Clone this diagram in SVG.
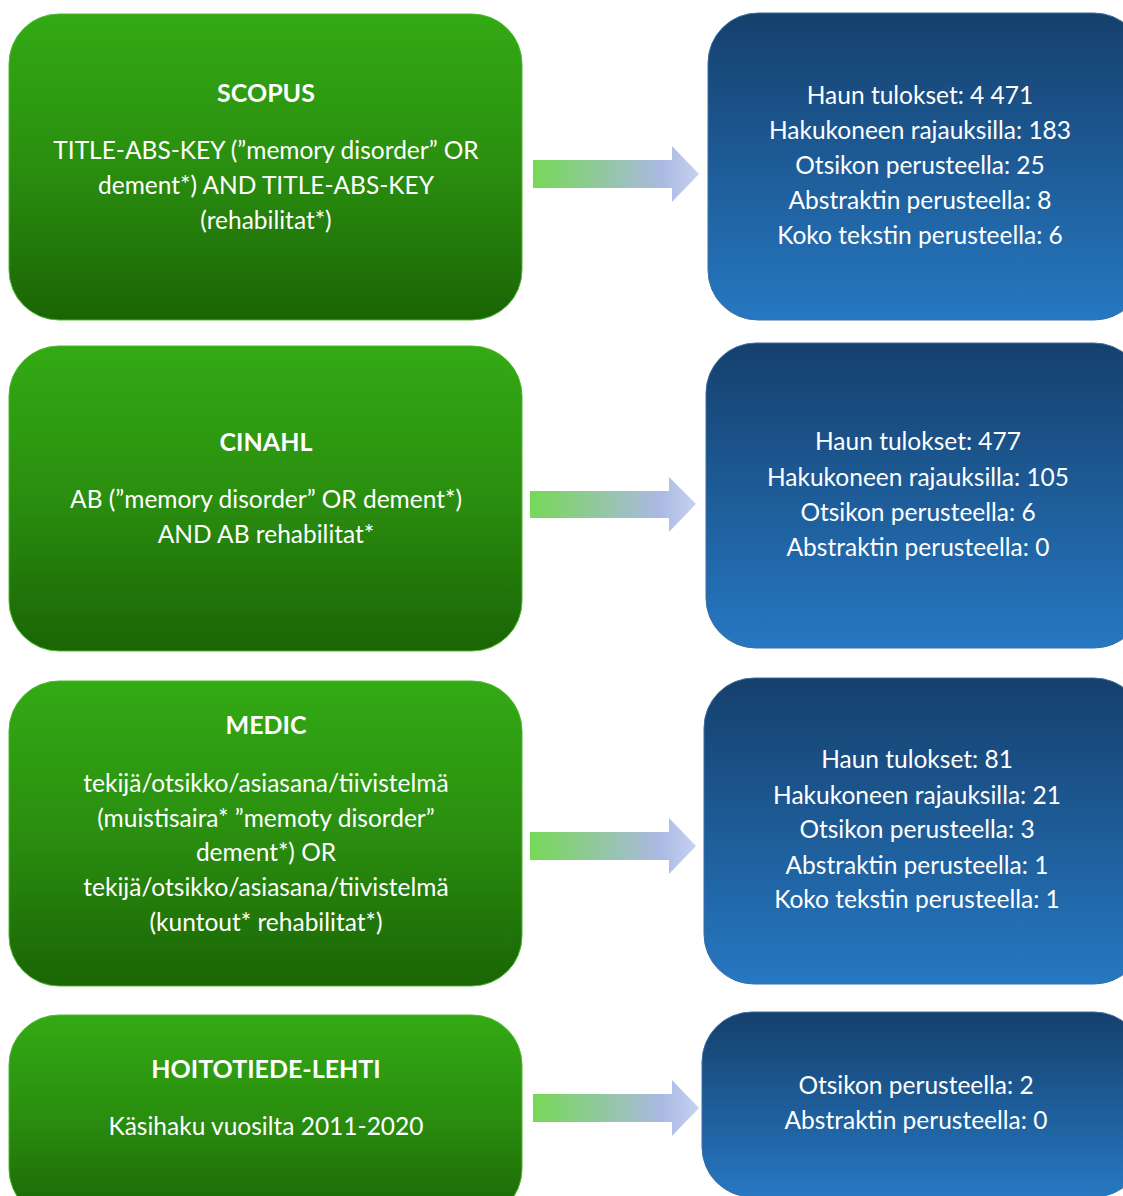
<svg xmlns="http://www.w3.org/2000/svg" width="1123" height="1196" viewBox="0 0 1123 1196">
<defs>
<linearGradient id="g" x1="0" y1="0" x2="0" y2="1">
<stop offset="0" stop-color="#33aa14"/>
<stop offset="0.5" stop-color="#2a8e0f"/>
<stop offset="1" stop-color="#1a6505"/>
</linearGradient>
<linearGradient id="b" x1="0" y1="0" x2="0" y2="1">
<stop offset="0" stop-color="#15406d"/>
<stop offset="1" stop-color="#2678c2"/>
</linearGradient>
<linearGradient id="a" x1="0" y1="0" x2="1" y2="0">
<stop offset="0" stop-color="#76d857"/>
<stop offset="0.5" stop-color="#98c4b0"/>
<stop offset="0.78" stop-color="#abb9e3"/>
<stop offset="1" stop-color="#c6d2ef"/>
</linearGradient>
</defs>
<style>
.gbox{fill:url(#g);stroke:#4fb832;stroke-width:1}
.bbox{fill:url(#b);stroke:#3a6fa3;stroke-width:1}
.t{font-family:Lato,"Open Sans",sans-serif;fill:#ffffff;text-anchor:middle;font-size:24.5px}
.h{font-weight:bold;font-size:25px}
.arrow{fill:url(#a)}
</style>
<rect width="1123" height="1196" fill="#ffffff"/>
<g id="connectors">
<path class="arrow" d="M533,160 H672 V146 L699,174 L672,202 V188 H533 Z"/>
<path class="arrow" d="M530,491 H669 V477 L696,504 L669,532 V518 H530 Z"/>
<path class="arrow" d="M530,832 H669 V818 L696,846 L669,874 V860 H530 Z"/>
<path class="arrow" d="M533,1094 H672 V1080 L699,1108 L672,1136 V1122 H533 Z"/>
</g>
<g id="scopus">
<rect class="gbox" x="9" y="14" width="513" height="306" rx="50"/>
<text class="t h" x="266" y="102">SCOPUS</text>
<text class="t" x="266" y="159">TITLE-ABS-KEY (”memory disorder” OR</text>
<text class="t" x="266" y="194">dement*) AND TITLE-ABS-KEY</text>
<text class="t" x="266" y="229">(rehabilitat*)</text>
</g>
<g id="scopus-results">
<rect class="bbox" x="708" y="13" width="436" height="307" rx="50"/>
<text class="t" x="920" y="104">Haun tulokset: 4 471</text>
<text class="t" x="920" y="139">Hakukoneen rajauksilla: 183</text>
<text class="t" x="920" y="174">Otsikon perusteella: 25</text>
<text class="t" x="920" y="209">Abstraktin perusteella: 8</text>
<text class="t" x="920" y="244">Koko tekstin perusteella: 6</text>
</g>
<g id="cinahl">
<rect class="gbox" x="9" y="346" width="513" height="305" rx="50"/>
<text class="t h" x="266" y="451">CINAHL</text>
<text class="t" x="266" y="508">AB (”memory disorder” OR dement*)</text>
<text class="t" x="266" y="543">AND AB rehabilitat*</text>
</g>
<g id="cinahl-results">
<rect class="bbox" x="706" y="343" width="438" height="305" rx="50"/>
<text class="t" x="918" y="450">Haun tulokset: 477</text>
<text class="t" x="918" y="486">Hakukoneen rajauksilla: 105</text>
<text class="t" x="918" y="521">Otsikon perusteella: 6</text>
<text class="t" x="918" y="556">Abstraktin perusteella: 0</text>
</g>
<g id="medic">
<rect class="gbox" x="9" y="681" width="513" height="305" rx="50"/>
<text class="t h" x="266" y="734">MEDIC</text>
<text class="t" x="266" y="792">tekijä/otsikko/asiasana/tiivistelmä</text>
<text class="t" x="266" y="827">(muistisaira* ”memoty disorder”</text>
<text class="t" x="266" y="861">dement*) OR</text>
<text class="t" x="266" y="896">tekijä/otsikko/asiasana/tiivistelmä</text>
<text class="t" x="266" y="931">(kuntout* rehabilitat*)</text>
</g>
<g id="medic-results">
<rect class="bbox" x="704" y="678" width="440" height="306" rx="50"/>
<text class="t" x="917" y="768">Haun tulokset: 81</text>
<text class="t" x="917" y="804">Hakukoneen rajauksilla: 21</text>
<text class="t" x="917" y="838">Otsikon perusteella: 3</text>
<text class="t" x="917" y="874">Abstraktin perusteella: 1</text>
<text class="t" x="917" y="908">Koko tekstin perusteella: 1</text>
</g>
<g id="hoitotiede">
<rect class="gbox" x="9" y="1015" width="513" height="204" rx="50"/>
<text class="t h" x="266" y="1078">HOITOTIEDE-LEHTI</text>
<text class="t" x="266" y="1135">Käsihaku vuosilta 2011-2020</text>
</g>
<g id="hoitotiede-results">
<rect class="bbox" x="702" y="1012" width="442" height="185" rx="50"/>
<text class="t" x="916" y="1094">Otsikon perusteella: 2</text>
<text class="t" x="916" y="1129">Abstraktin perusteella: 0</text>
</g>
</svg>
